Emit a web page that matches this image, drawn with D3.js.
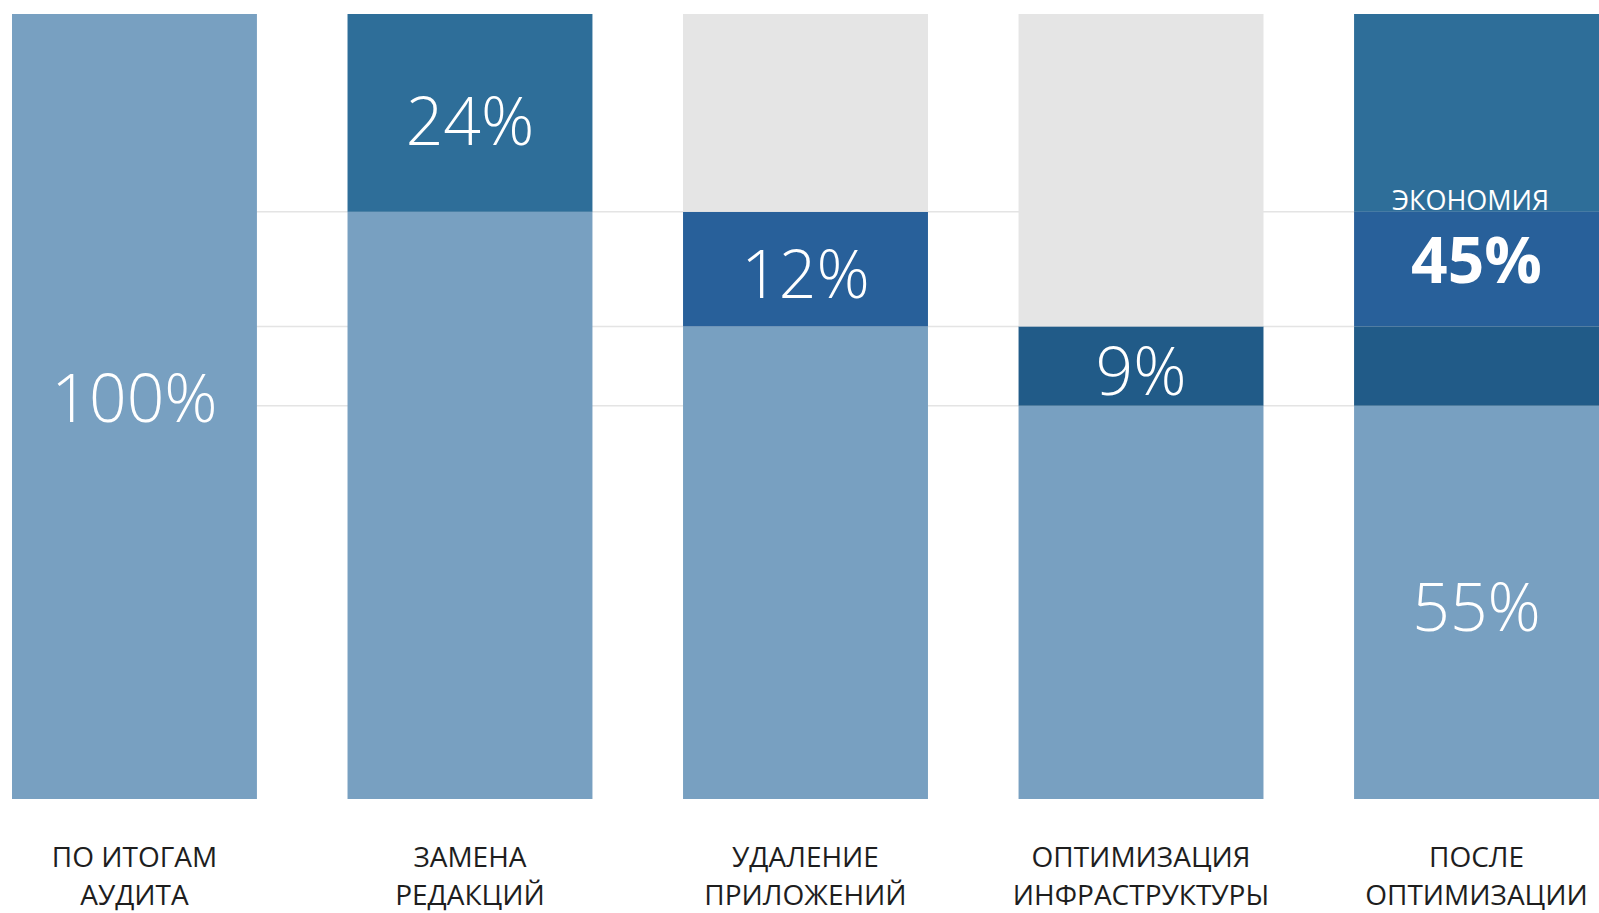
<!DOCTYPE html>
<html><head><meta charset="utf-8">
<script src="https://cdn.jsdelivr.net/npm/d3@7"></script>
<style>
html,body{margin:0;padding:0;background:#fff;overflow:hidden}
svg{display:block}
</style></head>
<body>
<svg id="c" width="1599" height="913"></svg>
<script>
// ---- data ----
const categories = ["ПО ИТОГАМ|АУДИТА","ЗАМЕНА|РЕДАКЦИЙ","УДАЛЕНИЕ|ПРИЛОЖЕНИЙ","ОПТИМИЗАЦИЯ|ИНФРАСТРУКТУРЫ","ПОСЛЕ|ОПТИМИЗАЦИИ"];
const startValue = 100;                 // cost after audit (drawn height)
const reductions = [25.2, 14.6, 10.1];  // drawn heights of the three savings steps
const reductionLabels = ["24%","12%","9%"];
const startLabel = "100%";
const remainderLabel = "55%";
const savingsTitle = "ЭКОНОМИЯ";
const savingsLabel = "45%";

const stepColors = ["#2e6e99","#28609a","#215b88"];
const baseColor = "#78a0c1";
const emptyColor = "#e5e5e5";

// ---- scales ----
const svg = d3.select("#c");
const x = d3.scaleBand().domain(categories).range([12,1599]).paddingInner(0.27).paddingOuter(0);
const y = d3.scaleLinear().domain([0,100]).range([799,14]);

// cumulative levels
const levels = [startValue];
reductions.forEach(r => levels.push(levels[levels.length-1]-r));
const remainder = levels[levels.length-1];

// gridlines
svg.append("g").selectAll("line").data(levels.slice(1)).join("line")
  .attr("x1", x(categories[0])).attr("x2", 1599)
  .attr("y1", d=>y(d)).attr("y2", d=>y(d))
  .attr("stroke","#e4e4e4").attr("stroke-width",1.5);

// build segments
const segs = [];
// bar 1
segs.push({cat:categories[0], lo:0, hi:startValue, color:baseColor, label:startLabel, shift:-14});
// step bars
reductions.forEach((r,i)=>{
  const cat = categories[i+1];
  const hi = levels[i], lo = levels[i+1];
  segs.push({cat, lo:0, hi:lo, color:baseColor});
  segs.push({cat, lo, hi, color:stepColors[i], label:reductionLabels[i], shift:i===0?3:0});
  if (hi < startValue) segs.push({cat, lo:hi, hi:startValue, color:emptyColor});
});
// final bar
const last = categories[categories.length-1];
segs.push({cat:last, lo:0, hi:remainder, color:baseColor, label:remainderLabel, shift:0});
reductions.forEach((r,i)=>{
  segs.push({cat:last, lo:levels[i+1], hi:levels[i], color:stepColors[i]});
});

svg.append("g").selectAll("rect").data(segs).join("rect")
  .attr("x", d=>x(d.cat)).attr("width", x.bandwidth())
  .attr("y", d=>y(d.hi)).attr("height", d=>y(d.lo)-y(d.hi))
  .attr("fill", d=>d.color);

// value labels
svg.append("g").selectAll("text").data(segs.filter(d=>d.label)).join("text")
  .attr("x", d=>x(d.cat)+x.bandwidth()/2)
  .attr("y", d=>(y(d.lo)+y(d.hi))/2 + 29 + d.shift)
  .attr("text-anchor","middle")
  .attr("fill","#fff")
  .style("font-family","'Open Sans', sans-serif")
  .style("font-weight",300)
  .style("font-size","66px")
  .text(d=>d.label);

// savings label on final bar
const cx = x(last)+x.bandwidth()/2;
svg.append("text").attr("x",cx-6).attr("y", y(levels[1]) - 2)
  .attr("text-anchor","middle").attr("fill","#fff")
  .style("font-family","'Open Sans', sans-serif").style("font-size","27px")
  .text(savingsTitle);
svg.append("text").attr("x",cx).attr("y", y(levels[1]) + 71)
  .attr("text-anchor","middle").attr("fill","#fff")
  .style("font-family","'Open Sans', sans-serif").style("font-weight",700).style("font-size","64px")
  .text(savingsLabel);

// category labels
const axis = svg.append("g");
categories.forEach(c=>{
  const lines = c.split("|");
  const t = axis.append("text").attr("x", x(c)+x.bandwidth()/2).attr("y",867)
    .attr("text-anchor","middle").attr("fill","#1e1e1e")
    .style("font-family","'Open Sans', sans-serif").style("font-size","28px");
  lines.forEach((l,i)=>t.append("tspan").attr("x", x(c)+x.bandwidth()/2).attr("y",867+38*i).text(l));
});
</script>
</body></html>
